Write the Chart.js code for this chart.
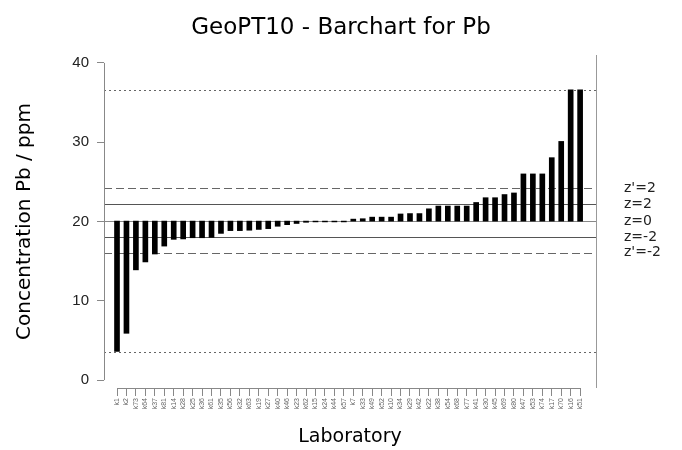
<!DOCTYPE html>
<html><head><meta charset="utf-8">
<script src="https://cdn.jsdelivr.net/npm/chart.js@4"></script>
<style>html,body{margin:0;padding:0;background:#fff}#wrap{width:682px;height:450px}</style>
</head><body><div id="wrap"><canvas id="c" width="682" height="450"></canvas></div>
<script>
const labs = ["k1","k2","k73","k64","k37","k81","k14","k28","k25","k36","k61","k35","k56","k32","k63","k19","k27","k40","k46","k23","k62","k15","k24","k44","k57","k7","k33","k49","k52","k10","k34","k29","k42","k22","k38","k54","k68","k77","k41","k30","k45","k69","k80","k47","k53","k74","k17","k70","k16","k51"];
const values = [3.6,5.9,13.9,14.9,15.9,16.9,17.75,17.8,17.95,17.95,18.0,18.5,18.85,18.85,18.9,19.0,19.1,19.4,19.6,19.75,19.9,19.95,19.95,19.95,19.95,20.3,20.35,20.55,20.55,20.55,20.95,21.0,21.0,21.6,21.95,21.95,21.95,21.95,22.4,23.0,23.0,23.4,23.6,26.0,26.0,26.0,28.05,30.1,36.6,36.6];
const assigned = 20.05;
const zLimits = [22.2, 18.0];
const zPrimeLimits = [24.2, 16.05];
const rangeLimits = [36.6, 3.6];
const yTicks = [0, 10, 20, 30, 40];
const refLabels = ["z'=2", "z=2", "z=0", "z=-2", "z'=-2"];
const refValues = [zPrimeLimits[0], zLimits[0], assigned, zLimits[1], zPrimeLimits[1]];
const chartTitle = 'GeoPT10 - Barchart for Pb';

const FONT = "'DejaVu Sans', sans-serif";
const TFONT = "'Liberation Sans', Arial, sans-serif";

const refPlugin = {
  id: 'refLines',
  beforeDatasetsDraw(chart) {
    const {ctx, chartArea: a, scales: {x, y}} = chart;
    ctx.save();
    const hline = (v, color, dash) => {
      const py = Math.round(y.getPixelForValue(v)) + 0.5;
      ctx.strokeStyle = color; ctx.lineWidth = 1; ctx.setLineDash(dash);
      ctx.beginPath(); ctx.moveTo(a.left, py); ctx.lineTo(a.right, py); ctx.stroke();
    };
    rangeLimits.forEach(v => hline(v, '#666', [2, 3]));
    zPrimeLimits.forEach(v => hline(v, '#666', [8, 4]));
    zLimits.forEach(v => hline(v, '#555', []));
    hline(assigned, '#888', []);
    ctx.setLineDash([]);
    ctx.strokeStyle = '#888';
    const ax = Math.round(a.left) + 0.5;
    ctx.beginPath(); ctx.moveTo(ax, y.getPixelForValue(yTicks[0])); ctx.lineTo(ax, y.getPixelForValue(yTicks[yTicks.length-1])); ctx.stroke();
    const by = Math.round(a.bottom) + 0.5;
    ctx.beginPath(); ctx.moveTo(x.getPixelForValue(0), by); ctx.lineTo(x.getPixelForValue(labs.length-1), by); ctx.stroke();
    const rx = Math.round(a.right) + 0.5;
    ctx.strokeStyle = '#999';
    ctx.beginPath(); ctx.moveTo(rx, a.top); ctx.lineTo(rx, a.bottom); ctx.stroke();
    ctx.restore();
  },
  afterDraw(chart) {
    const {ctx, chartArea: a, scales: {y}} = chart;
    ctx.save();
    ctx.fillStyle = '#222';
    ctx.font = '14px ' + FONT;
    ctx.textBaseline = 'middle';
    ctx.textAlign = 'left';
    refLabels.forEach((t, i) => ctx.fillText(t, a.right + 28, y.getPixelForValue(refValues[i])));
    ctx.fillStyle = '#000';
    ctx.font = '23px ' + FONT;
    ctx.textAlign = 'center';
    ctx.fillText(chartTitle, chart.width / 2, 28);
    ctx.restore();
  }
};

new Chart(document.getElementById('c').getContext('2d'), {
  type: 'bar',
  data: {
    datasets: [{
      data: labs.map((l, i) => ({x: i, y: [assigned, values[i]]})),
      backgroundColor: '#000',
      borderWidth: 0,
      barThickness: 5
    }]
  },
  options: {
    responsive: false,
    animation: false,
    layout: {padding: {left: 0, right: 86, top: 55, bottom: 0}},
    plugins: {
      legend: {display: false},
      tooltip: {enabled: false},
      title: {display: false}
    },
    scales: {
      x: {
        type: 'linear', offset: false, min: -1.376, max: 50.68,
        grid: {offset: false, drawOnChartArea: false, drawTicks: true, tickLength: 8, color: '#888'},
        border: {display: false},
        afterBuildTicks: s => { s.ticks = labs.map((_, i) => ({value: i})); },
        afterFit: s => { s.height = 62; },
        ticks: {autoSkip: false, minRotation: 90, maxRotation: 90, padding: 2,
          font: {family: TFONT, size: 7}, color: '#666', callback: v => labs[v]},
        title: {display: true, text: 'Laboratory', color: '#000',
          font: {family: FONT, size: 19, weight: 'normal'}, padding: {top: 0, bottom: 2}}
      },
      y: {
        min: -1, max: 41,
        grid: {drawOnChartArea: false, drawTicks: true, tickLength: 7, color: '#888'},
        border: {display: false},
        afterBuildTicks: s => { s.ticks = yTicks.map(v => ({value: v})); },
        afterFit: s => { s.width = 104; },
        ticks: {padding: 8, font: {family: TFONT, size: 15}, color: '#222'},
        title: {display: true, text: 'Concentration Pb / ppm', color: '#000',
          font: {family: FONT, size: 20, weight: 'normal'}, padding: {top: 13, bottom: 0}}
      }
    }
  },
  plugins: [refPlugin]
});
</script></body></html>
